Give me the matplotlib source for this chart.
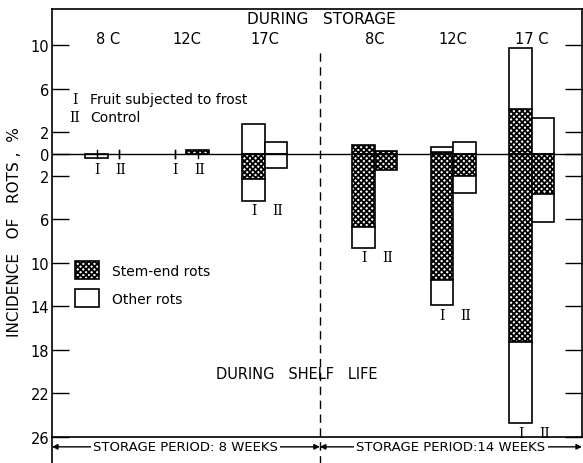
import matplotlib
matplotlib.use("Agg")
import matplotlib.pyplot as plt
from matplotlib.patches import Patch
from matplotlib.transforms import blended_transform_factory
import numpy as np

# ---------------------------------------------------
# data : 2 storage periods x 3 temperatures, I = frost, II = control
# ---------------------------------------------------
periods = ["STORAGE PERIOD: 8 WEEKS", "STORAGE PERIOD:14 WEEKS"]
temps = ["8 C", "12C", "17C", "8C", "12C", "17 C"]

# during storage (%, drawn upward)
store_stem_I = [0.0, 0.0, 0.0, 0.85, 0.2, 4.1]
store_other_I = [0.0, 0.0, 2.75, 0.0, 0.4, 5.6]
store_stem_II = [0.0, 0.35, 0.0, 0.3, 0.0, 0.0]
store_other_II = [0.0, 0.0, 1.1, 0.0, 1.1, 3.3]

# during shelf life (%, drawn downward)
shelf_stem_I = [0.0, 0.0, 2.3, 6.7, 11.6, 17.3]
shelf_other_I = [0.4, 0.0, 2.0, 1.9, 2.3, 7.4]
shelf_stem_II = [0.0, 0.0, 0.0, 1.5, 2.0, 3.7]
shelf_other_II = [0.0, 0.0, 1.3, 0.0, 1.6, 2.6]

yticks = [10, 6, 2, 0, -2, -6, -10, -14, -18, -22, -26]

# ---------------------------------------------------
plt.rcParams['font.family'] = ['DejaVu Sans']
plt.rcParams['hatch.linewidth'] = 1.3

fig = plt.figure(figsize=(5.83, 4.64), dpi=100)
ax = fig.add_axes([52/583, 1-438/464, 530/583, 428/464])

xpos = np.array([0, 1, 2, 3.4, 4.4, 5.4])
w = 0.287
HATCH = 'xxxxxx'

def draw_bar(x, stem, other, sign):
    """une barre empilée : stem-end (hachuré) puis other (blanc)"""
    if stem == 0 and other == 0:
        ax.plot([x, x], [-0.35, 0.35], color='black', lw=1.0)
        return
    if stem > 0:
        ax.bar(x, sign*stem, w, bottom=0, color='white', edgecolor='black',
               hatch=HATCH, lw=1.2)
    if other > 0:
        ax.bar(x, sign*other, w, bottom=sign*stem, color='white',
               edgecolor='black', lw=1.2)

for i in range(len(xpos)):
    xI = xpos[i] - w/2
    xII = xpos[i] + w/2
    draw_bar(xI, store_stem_I[i], store_other_I[i], 1)
    draw_bar(xII, store_stem_II[i], store_other_II[i], 1)
    draw_bar(xI, shelf_stem_I[i], shelf_other_I[i], -1)
    draw_bar(xII, shelf_stem_II[i], shelf_other_II[i], -1)
    # labels I / II sous les barres
    low = max(shelf_stem_I[i] + shelf_other_I[i], 0.5) + 0.9
    ax.text(xI, -low, "I", family='DejaVu Serif', fontsize=10,
            ha='center', va='center')
    ax.text(xII + 0.02, -low, "II", family='DejaVu Serif', fontsize=10,
            ha='center', va='center')
    ax.text(xpos[i], 10.6, temps[i], fontsize=10.5, ha='center', va='center')

ax.axhline(0, color='black', lw=1.0)

xlim = (-0.713, 6.04)
ax.set_xlim(xlim)
ax.set_ylim(-26, 13.3)
ax.set_yticks(yticks)
ax.set_yticklabels([str(abs(t)) for t in yticks], fontsize=10.5)
ax.set_xticks([])
ax.tick_params(axis='y', direction='in', length=12, width=1, pad=2,
               right=True)
for s in ax.spines.values():
    s.set_linewidth(1.2)

# separation entre les deux periodes
xmid = (xpos[2] + xpos[3]) / 2
trans = blended_transform_factory(ax.transData, ax.transAxes)
ax.plot([xmid, xmid], [-0.065, 0.9], transform=trans, color='black',
        lw=1.0, ls=(0, (6, 4)), clip_on=False)
ax.plot([xlim[0], xlim[0]], [-0.06, 0], transform=trans, color='black',
        lw=1.2, clip_on=False)

# textes
ax.text(xmid + 0.02, 12.4, "DURING   STORAGE", fontsize=11, ha='center',
        va='center')
ax.text(xmid - 0.3, -20.2, "DURING   SHELF   LIFE", fontsize=10.5,
        ha='center', va='center')
ax.text(-0.45, 5.05, "I", family='DejaVu Serif', fontsize=10, va='center')
ax.text(-0.23, 5.05, "Fruit subjected to frost", fontsize=10, va='center')
ax.text(-0.49, 3.4, "II", family='DejaVu Serif', fontsize=10, va='center')
ax.text(-0.23, 3.4, "Control", fontsize=10, va='center')

handles = [Patch(facecolor='white', edgecolor='black', hatch=HATCH, lw=1.2),
           Patch(facecolor='white', edgecolor='black', lw=1.2)]
ax.legend(handles, ["Stem-end rots", "Other rots"], frameon=False,
          fontsize=10, loc='upper left', bbox_to_anchor=(0.02, 0.44),
          handlelength=1.75, handleheight=1.65, labelspacing=0.7,
          handletextpad=0.9)

fig.text(15/583, 0.50, "INCIDENCE   OF   ROTS ,  %", rotation=90,
         fontsize=11, ha='center', va='center')

# fleches des periodes de stockage
yarr = -0.023
bounds = [(xlim[0], xmid), (xmid, xlim[1])]
for (a, b), lab in zip(bounds, periods):
    ax.annotate('', xy=(a, yarr), xytext=(b, yarr), xycoords=trans,
                textcoords=trans,
                arrowprops=dict(arrowstyle='<|-|>', color='black', lw=1.0,
                                mutation_scale=8, shrinkA=0, shrinkB=0),
                annotation_clip=False)
    ax.text((a + b) / 2, yarr, lab, transform=trans, fontsize=9.5,
            ha='center', va='center',
            bbox=dict(facecolor='white', edgecolor='none', pad=1.5))

fig.savefig("out.png", dpi=100)
